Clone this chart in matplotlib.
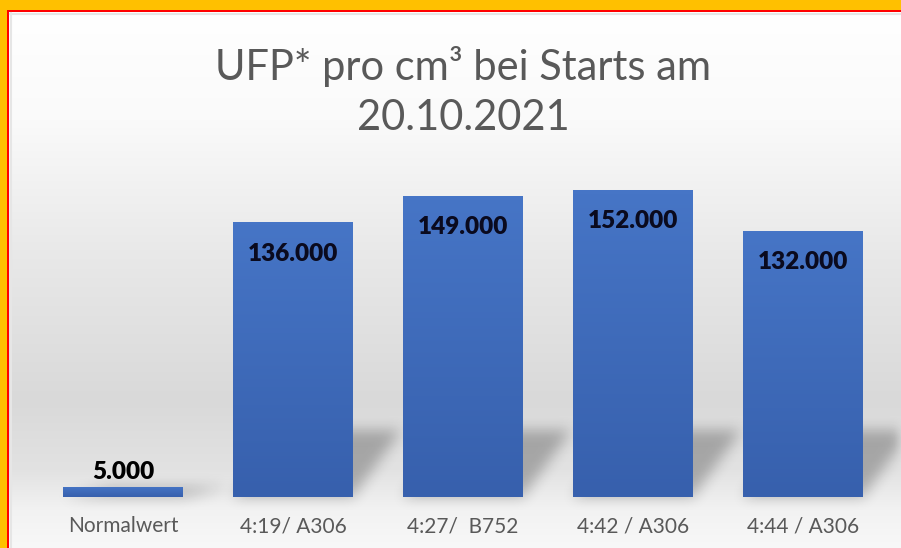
import numpy as np
import matplotlib
matplotlib.use("Agg")
import matplotlib.pyplot as plt
from matplotlib.patches import Rectangle
from matplotlib.path import Path
from matplotlib.colors import LinearSegmentedColormap, to_rgb

# --- data ---
categories = ["Normalwert", "4:19/ A306", "4:27/  B752", "4:42 / A306", "4:44 / A306"]
values = [5000, 136000, 149000, 152000, 132000]
value_labels = ["5.000", "136.000", "149.000", "152.000", "132.000"]
title_lines = ["UFP* pro cm³ bei Starts am", "20.10.2021"]

W, H = 901, 548
plt.rcParams['font.family'] = ['Lato', 'DejaVu Sans']


def box_blur(a, r, passes=3):
    k = np.ones(2 * r + 1) / (2 * r + 1)
    for _ in range(passes):
        a = np.apply_along_axis(lambda m: np.convolve(m, k, mode='same'), 0, a)
        a = np.apply_along_axis(lambda m: np.convolve(m, k, mode='same'), 1, a)
    return a


fig = plt.figure(figsize=(W / 100, H / 100), dpi=100)

# background axes in pixel coords (origin bottom left)
bg = fig.add_axes([0, 0, 1, 1], zorder=0)
bg.set_xlim(0, W)
bg.set_ylim(0, H)
bg.axis('off')

# orange frame + red line
bg.add_patch(Rectangle((0, 0), W, H, color='#FFC000', lw=0, zorder=0))
bg.add_patch(Rectangle((7, 0), W, H - 10, color='#FF0000', lw=0, zorder=1))

# chart area gradient (stops given as image rows from top)
stops_y = [12, 120, 250, 400, 470, 510, 548]
stops_c = ['#ffffff', '#fafafa', '#e9e9e9', '#d9d9d9', '#e2e2e2', '#f2f2f2', '#f8f8f8']
rows = np.arange(12, H) + 0.5
rgb = np.array([to_rgb(c) for c in stops_c])
col = np.stack([np.interp(rows, stops_y, rgb[:, k]) for k in range(3)], axis=1)
grad = np.repeat(col[:, None, :], 10, axis=1)
bg.imshow(grad, extent=(9, W, 0, H - 12), origin='upper', aspect='auto',
          interpolation='bilinear', zorder=2)
# faint inner edge
bg.plot([10.5, 10.5], [0, H - 13], color='#e6e6e6', lw=1.5, zorder=3)
bg.plot([10, W], [H - 13.5, H - 13.5], color='#e6e6e6', lw=1.5, zorder=3)

# --- main axes ---
x = np.arange(len(categories))
ax = fig.add_axes([38 / W, 51 / H, 850 / W, 323 / H], zorder=1)
ax.set_facecolor('none')
bar_w = 120 / 170
bars = ax.bar(x, values, width=bar_w, color='#3d68b8', lw=0, zorder=2)

cmap = LinearSegmentedColormap.from_list('bar', ['#3760ad', '#4675c6'])
g = np.linspace(0, 1, 64)[:, None]
for b in bars:
    x0, h = b.get_x(), b.get_height()
    im = ax.imshow(g, extent=(x0, x0 + b.get_width(), 0, h), origin='lower',
                   aspect='auto', cmap=cmap, zorder=3, interpolation='bilinear')
    im.set_clip_path(b)

ax.set_xlim(-0.5, len(categories) - 0.5)
ax.set_ylim(0, 160000)
for s in ax.spines.values():
    s.set_visible(False)
ax.set_yticks([])
ax.set_xticks(x)
ax.set_xticklabels(categories)
ax.tick_params(axis='x', length=0, pad=14, labelsize=15, labelcolor='#595959')

# value labels
for xi, v, lab in zip(x, values, value_labels):
    if v < 20000:
        ax.annotate(lab, (xi, v), xytext=(0, 6), textcoords='offset points',
                    ha='center', va='baseline', fontsize=17.5, fontweight='heavy',
                    color='#000000', zorder=5)
    else:
        ax.annotate(lab, (xi, v), xytext=(0, -27.5), textcoords='offset points',
                    ha='center', va='baseline', fontsize=17.5, fontweight='heavy',
                    color='#0a0a1e', zorder=5)

# perspective shadows behind bars (pixel mask, blurred)
shadow_dx = 48 / 170
shadow_h = 33000
xs, ys = np.meshgrid(np.arange(W) + 0.5, np.arange(H) + 0.5)
pts = np.column_stack([xs.ravel(), ys.ravel()])
mask = np.zeros(xs.size)
for b in bars:
    l, r = b.get_x(), b.get_x() + b.get_width()
    hs = min(b.get_height(), shadow_h)
    poly = [(l, 0), (r, 0), (r + shadow_dx, hs), (l + shadow_dx, hs)]
    pix = ax.transData.transform(poly)
    mask = np.maximum(mask, Path(pix).contains_points(pts))
mask = box_blur(mask.reshape(H, W), 6)
shadow = np.zeros((H, W, 4))
shadow[..., 3] = 0.26 * mask
# keep shadow inside chart area
shadow[:, :9, 3] = 0
bg.imshow(shadow, extent=(0, W, 0, H), origin='lower', aspect='auto', zorder=4)

# title
fig.text(463 / W, 1 - 80 / H, title_lines[0], ha='center', va='baseline',
         fontsize=30, color='#595959')
fig.text(463 / W, 1 - 130 / H, title_lines[1], ha='center', va='baseline',
         fontsize=30, color='#595959')

fig.savefig('out.png', dpi=100)
